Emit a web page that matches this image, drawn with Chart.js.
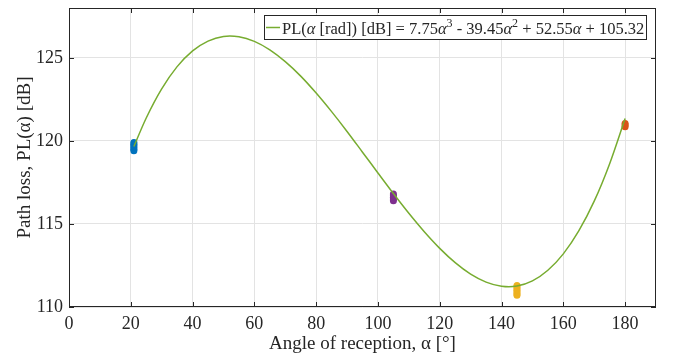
<!DOCTYPE html>
<html>
<head>
<meta charset="utf-8">
<script src="https://cdn.jsdelivr.net/npm/chart.js@4"></script>
<style>
  body { margin: 0; background: #fff; }
</style>
</head>
<body>
<canvas id="myChart" width="674" height="358"></canvas>
<script>
// fitted curve
const curveAngles = [21, 25, 30, 35, 40, 45, 50, 55, 60, 65, 70, 75, 80, 85, 90, 95, 100, 105, 110, 115, 120, 125, 130, 135, 140, 145, 150, 155, 160, 165, 170, 175, 180];
const curveLoss = [119.66, 121.38, 123.13, 124.47, 125.42, 126.01, 126.29, 126.27, 125.99, 125.48, 124.77, 123.9, 122.88, 121.76, 120.57, 119.32, 118.07, 116.83, 115.64, 114.53, 113.53, 112.67, 111.98, 111.5, 111.25, 111.26, 111.57, 112.21, 113.2, 114.58, 116.37, 118.63, 121.35];

// measured clusters
const angle21 = [21, 21, 21, 21, 21, 21];
const loss21 = [119.4, 119.5, 119.6, 119.7, 119.8, 119.9];
const angle105 = [105, 105, 105, 105, 105];
const loss105 = [116.4, 116.5, 116.6, 116.7, 116.8];
const angle145 = [145, 145, 145, 145, 145, 145, 145];
const loss145 = [110.7, 110.8, 110.9, 111.0, 111.1, 111.2, 111.3];
const angle180 = [180, 180, 180];
const loss180 = [120.85, 120.95, 121.05];

const xTicks = [0, 20, 40, 60, 80, 100, 120, 140, 160, 180];
const yTicks = [110, 115, 120, 125];

const font = "'Liberation Serif', 'Times New Roman', serif";
const axisColor = "#262626";

function pts(xs, ys) {
  return xs.map((x, i) => ({ x: x, y: ys[i] }));
}

function cluster(xs, ys, color) {
  return {
    type: "scatter",
    data: pts(xs, ys),
    backgroundColor: color,
    borderWidth: 0,
    pointRadius: 3.5,
    pointHoverRadius: 3.5,
  };
}

// box + inward ticks on all four sides
const framePlugin = {
  id: "frame",
  afterDraw(chart) {
    const c = chart.ctx;
    const a = chart.chartArea;
    const xs = chart.scales.x;
    const ys = chart.scales.y;
    c.save();
    c.strokeStyle = axisColor;
    c.lineWidth = 1;
    c.strokeRect(a.left + 0.5, a.top + 0.5, a.right - a.left - 1, a.bottom - a.top - 1);
    c.beginPath();
    xTicks.forEach((v) => {
      const px = Math.round(xs.getPixelForValue(v)) + 0.5;
      c.moveTo(px, a.bottom);
      c.lineTo(px, a.bottom - 5);
      c.moveTo(px, a.top);
      c.lineTo(px, a.top + 5);
    });
    yTicks.forEach((v) => {
      const py = Math.round(ys.getPixelForValue(v)) + 0.5;
      c.moveTo(a.left, py);
      c.lineTo(a.left + 5, py);
      c.moveTo(a.right, py);
      c.lineTo(a.right - 5, py);
    });
    c.stroke();
    c.restore();
  },
};

// legend box drawn inside the plot, top right
const legendPlugin = {
  id: "insideLegend",
  afterDraw(chart) {
    const c = chart.ctx;
    const a = chart.chartArea;
    const normal = "16.5px " + font;
    const ital = "italic 16.5px " + font;
    const sup = "12px " + font;
    const parts = [
      ["PL(", normal, 0],
      ["α", ital, 0],
      [" [rad]) [dB] = 7.75", normal, 0],
      ["α", ital, 0],
      ["3", sup, -7],
      [" - 39.45", normal, 0],
      ["α", ital, 0],
      ["2", sup, -7],
      [" + 52.55", normal, 0],
      ["α", ital, 0],
      [" + 105.32", normal, 0],
    ];
    c.save();
    let textW = 0;
    parts.forEach((p) => {
      c.font = p[1];
      textW += c.measureText(p[0]).width;
    });
    const boxW = Math.round(18 + textW + 3);
    const boxH = 25;
    const right = a.right - 9;
    const left = right - boxW;
    const top = a.top + 7;
    c.fillStyle = "#fff";
    c.fillRect(left, top, boxW, boxH);
    c.strokeStyle = axisColor;
    c.lineWidth = 1;
    c.strokeRect(left + 0.5, top + 0.5, boxW - 1, boxH - 1);
    const midY = top + boxH / 2;
    c.strokeStyle = "#77AC30";
    c.lineWidth = 1.5;
    c.beginPath();
    c.moveTo(left + 2, midY);
    c.lineTo(left + 16, midY);
    c.stroke();
    c.fillStyle = axisColor;
    c.textBaseline = "alphabetic";
    let x = left + 18;
    const base = midY + 6;
    parts.forEach((p) => {
      c.font = p[1];
      c.fillText(p[0], x, base + p[2]);
      x += c.measureText(p[0]).width;
    });
    c.restore();
  },
};

const ctx = document.getElementById("myChart");

new Chart(ctx, {
  type: "scatter",
  data: {
    datasets: [
      {
        type: "line",
        data: pts(curveAngles, curveLoss),
        borderColor: "#77AC30",
        borderWidth: 1.5,
        pointRadius: 0,
        fill: false,
        tension: 0.3,
      },
      cluster(angle21, loss21, "#0072BD"),
      cluster(angle105, loss105, "#7E2F8E"),
      cluster(angle145, loss145, "#EDB120"),
      cluster(angle180, loss180, "#D95319"),
    ],
  },
  options: {
    responsive: false,
    animation: false,
    layout: {
      padding: { top: 8, right: 18, left: 0, bottom: 0 },
    },
    plugins: {
      legend: { display: false },
      tooltip: { enabled: false },
    },
    scales: {
      x: {
        type: "linear",
        min: 0,
        max: 190,
        afterBuildTicks(scale) {
          scale.ticks = xTicks.map((v) => ({ value: v }));
        },
        afterFit(scale) {
          scale.height = 51;
          scale.paddingLeft = 0;
          scale.paddingRight = 0;
        },
        ticks: {
          color: axisColor,
          padding: 6,
          maxRotation: 0,
          font: { family: font, size: 18 },
        },
        grid: {
          color: "#e3e3e3",
          drawTicks: false,
        },
        border: { display: false },
        title: {
          display: true,
          text: "Angle of reception, α [°]",
          color: axisColor,
          font: { family: font, size: 19 },
          padding: { top: 0, bottom: 3 },
        },
      },
      y: {
        min: 110,
        max: 128,
        afterBuildTicks(scale) {
          scale.ticks = yTicks.map((v) => ({ value: v }));
        },
        afterFit(scale) {
          scale.width = 69;
          scale.paddingTop = 0;
          scale.paddingBottom = 0;
        },
        ticks: {
          color: axisColor,
          padding: 6,
          font: { family: font, size: 18 },
        },
        grid: {
          color: "#e3e3e3",
          drawTicks: false,
        },
        border: { display: false },
        title: {
          display: true,
          text: "Path loss, PL(α) [dB]",
          color: axisColor,
          font: { family: font, size: 19 },
          padding: { top: 14, bottom: 0 },
        },
      },
    },
  },
  plugins: [framePlugin, legendPlugin],
});
</script>
</body>
</html>
